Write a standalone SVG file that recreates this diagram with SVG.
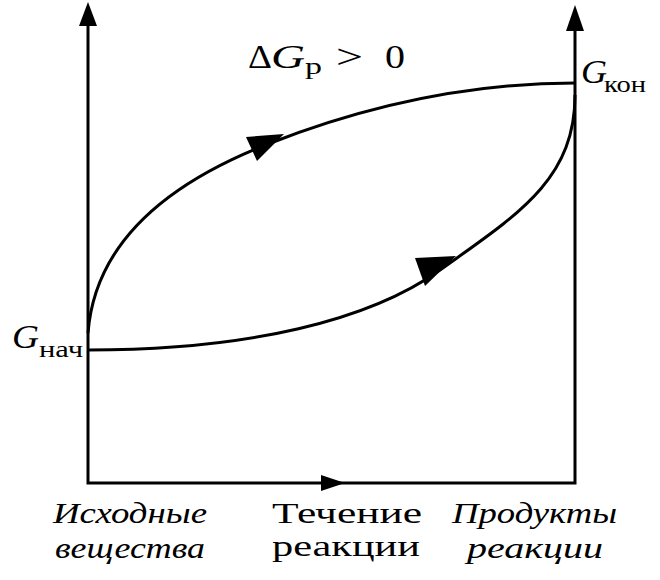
<svg xmlns="http://www.w3.org/2000/svg" width="660" height="580" viewBox="0 0 660 580">
<style>
.ax{stroke:#000;stroke-width:3;fill:none}
.cv{stroke:#000;stroke-width:3;fill:none}
.ah{fill:#000;stroke:none}
.t{font-family:"Liberation Serif","Times New Roman",serif;fill:#000}
.it{font-style:italic}
.lb{font-size:30px}
.sub{font-size:24px}
.big{font-size:34px}
</style>
<rect width="660" height="580" fill="#fff"/>
<g id="axes">
<path class="ax" d="M88,24 V483 H575 V30"/>
<polygon class="ah" points="88,2 79,26 97,26"/>
<polygon class="ah" points="575,5 566,31 584,31"/>
<polygon class="ah" points="345,483 321,475 321,491"/>
</g>
<g id="connectors">
<path id="forward" class="cv" d="M88,333 C94,255 150,190 268,144 C370,104 470,83 575,83"/>
<polygon class="ah" points="284,134 246,137 257,161"/>
<path id="path2" class="cv" d="M88,350 C250,350 370,320 440,270 C517,215 575,180 575,95"/>
<polygon class="ah" points="456,256 415,258 425,286"/>
</g>
<g id="label-dG">
<text class="t big" y="68"><tspan x="248" textLength="24" lengthAdjust="spacingAndGlyphs">Δ</tspan><tspan class="it" x="271" textLength="34" lengthAdjust="spacingAndGlyphs">G</tspan><tspan class="sub" x="305" y="74" textLength="17" lengthAdjust="spacingAndGlyphs">р</tspan><tspan x="336" y="68" textLength="27" lengthAdjust="spacingAndGlyphs">&gt;</tspan><tspan x="385" textLength="20" lengthAdjust="spacingAndGlyphs">0</tspan></text>
</g>
<g id="label-Gstart">
<text class="t big" y="348"><tspan class="it" x="12" textLength="27" lengthAdjust="spacingAndGlyphs">G</tspan><tspan class="sub" x="39" y="357" textLength="44" lengthAdjust="spacingAndGlyphs">нач</tspan></text>
</g>
<g id="label-Gend">
<text class="t big" y="83"><tspan class="it" x="581" textLength="26" lengthAdjust="spacingAndGlyphs">G</tspan><tspan class="sub" x="604" y="92" textLength="42" lengthAdjust="spacingAndGlyphs">кон</tspan></text>
</g>
<g id="label-start">
<text class="t it lb" x="53" y="523" textLength="154" lengthAdjust="spacingAndGlyphs">Исходные</text>
<text class="t it lb" x="55" y="558" textLength="150" lengthAdjust="spacingAndGlyphs">вещества</text>
</g>
<g id="label-course">
<text class="t lb" x="272" y="523" textLength="150" lengthAdjust="spacingAndGlyphs">Течение</text>
<text class="t lb" x="272" y="556" textLength="148" lengthAdjust="spacingAndGlyphs">реакции</text>
</g>
<g id="label-products">
<text class="t it lb" x="452" y="523" textLength="165" lengthAdjust="spacingAndGlyphs">Продукты</text>
<text class="t it lb" x="467" y="558" textLength="136" lengthAdjust="spacingAndGlyphs">реакции</text>
</g>
</svg>
